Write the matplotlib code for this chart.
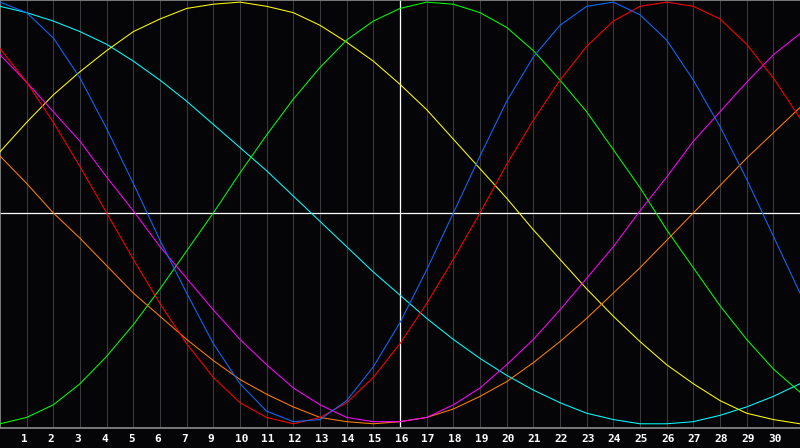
import matplotlib
matplotlib.use("Agg")
import matplotlib.pyplot as plt
import matplotlib.transforms as mtransforms

# ── colours ──────────────────────────────────────────────────────────────────
BG     = "#050507"
GRID   = "#3a3a3e"
SPINE  = "#8c8c8c"
WHITE  = "#ffffff"

# ── data (values in %, read at each day of the month) ────────────────────────
days = list(range(31))

blue = [100, 95, 83, 64, 40, 14, -13, -38, -62, -81, -94, -99, -98, -89, -73, -52,
        -27, 0, 27, 53, 74, 89, 98, 100, 94, 82, 63, 41, 16, -11, -38]
red = [78, 62, 43, 22, 0, -22, -43, -62, -78, -90, -97, -100, -97, -90, -78, -62,
       -43, -22, 0, 23, 44, 63, 79, 91, 98, 100, 98, 92, 80, 64, 45]
green = [-100, -97, -91, -81, -68, -53, -36, -18, 0, 19, 37, 54, 69, 82, 91, 97,
         100, 99, 95, 88, 77, 63, 48, 30, 12, -8, -26, -44, -60, -74, -85]
magenta = [75, 62, 48, 34, 17, 1, -16, -31, -46, -60, -72, -83, -91, -97, -99, -99,
           -97, -91, -83, -72, -60, -46, -31, -16, 1, 17, 34, 48, 62, 75, 85]
orange = [27, 14, 0, -12, -25, -38, -49, -60, -70, -79, -86, -92, -97, -99, -100, -99,
          -97, -93, -87, -80, -71, -61, -50, -38, -26, -13, 0, 13, 26, 38, 50]
yellow = [29, 43, 56, 67, 77, 86, 92, 97, 99, 100, 98, 95, 89, 81, 72, 61,
          49, 35, 21, 7, -8, -22, -36, -49, -61, -72, -81, -89, -95, -98, -100]
cyan = [98, 95, 91, 86, 80, 72, 63, 53, 42, 31, 20, 8, -4, -16, -28, -39,
        -50, -60, -69, -77, -84, -90, -95, -98, -100, -100, -99, -96, -92, -87, -81]

series = [
    (cyan,    "#00ffff"),
    (yellow,  "#ffff00"),
    (green,   "#00ff00"),
    (orange,  "#ff8000"),
    (magenta, "#ff00ff"),
    (red,     "#ff0000"),
    (blue,    "#0a6cff"),
]

tick_pos    = list(range(1, 30))
tick_labels = ["1", "2", "3", "4", "5", "6", "7", "9", "10", "11", "12", "13", "14", "15",
               "16", "17", "18", "19", "20", "21", "22", "23", "24", "25", "26", "27",
               "28", "29", "30"]
today = 15

# ── figure ───────────────────────────────────────────────────────────────────
fig = plt.figure(figsize=(8, 4.48), dpi=100, facecolor=BG)
ax = fig.add_axes([0, 20 / 448, 1, 428 / 448])
ax.set_facecolor(BG)

for d in tick_pos:
    ax.axvline(d, color=GRID, lw=0.75, zorder=1)
ax.axvline(today, color=WHITE, lw=0.9, zorder=2)
ax.axhline(0, color=WHITE, lw=0.9, zorder=2)

for vals, col in series:
    ax.plot(days, vals, color=col, lw=0.75, zorder=3)

ax.set_xlim(0, 30)
ax.set_ylim(-102, 101)
ax.set_xticks([])
ax.set_yticks([])
for side in ("left", "top", "bottom"):
    ax.spines[side].set_color(SPINE)
    ax.spines[side].set_linewidth(1.2)
ax.spines["right"].set_visible(False)

# day labels under the plot
trans = mtransforms.blended_transform_factory(ax.transData, fig.transFigure)
trans = mtransforms.offset_copy(trans, fig=fig, x=-5.5, y=0, units="dots")
for pos, lab in zip(tick_pos, tick_labels):
    fig.text(pos, 9 / 448, lab, transform=trans, ha="left", va="center",
             fontsize=8, fontweight="bold", color=WHITE, family="DejaVu Sans Mono")

plt.savefig("out.png", dpi=100, facecolor=BG)
